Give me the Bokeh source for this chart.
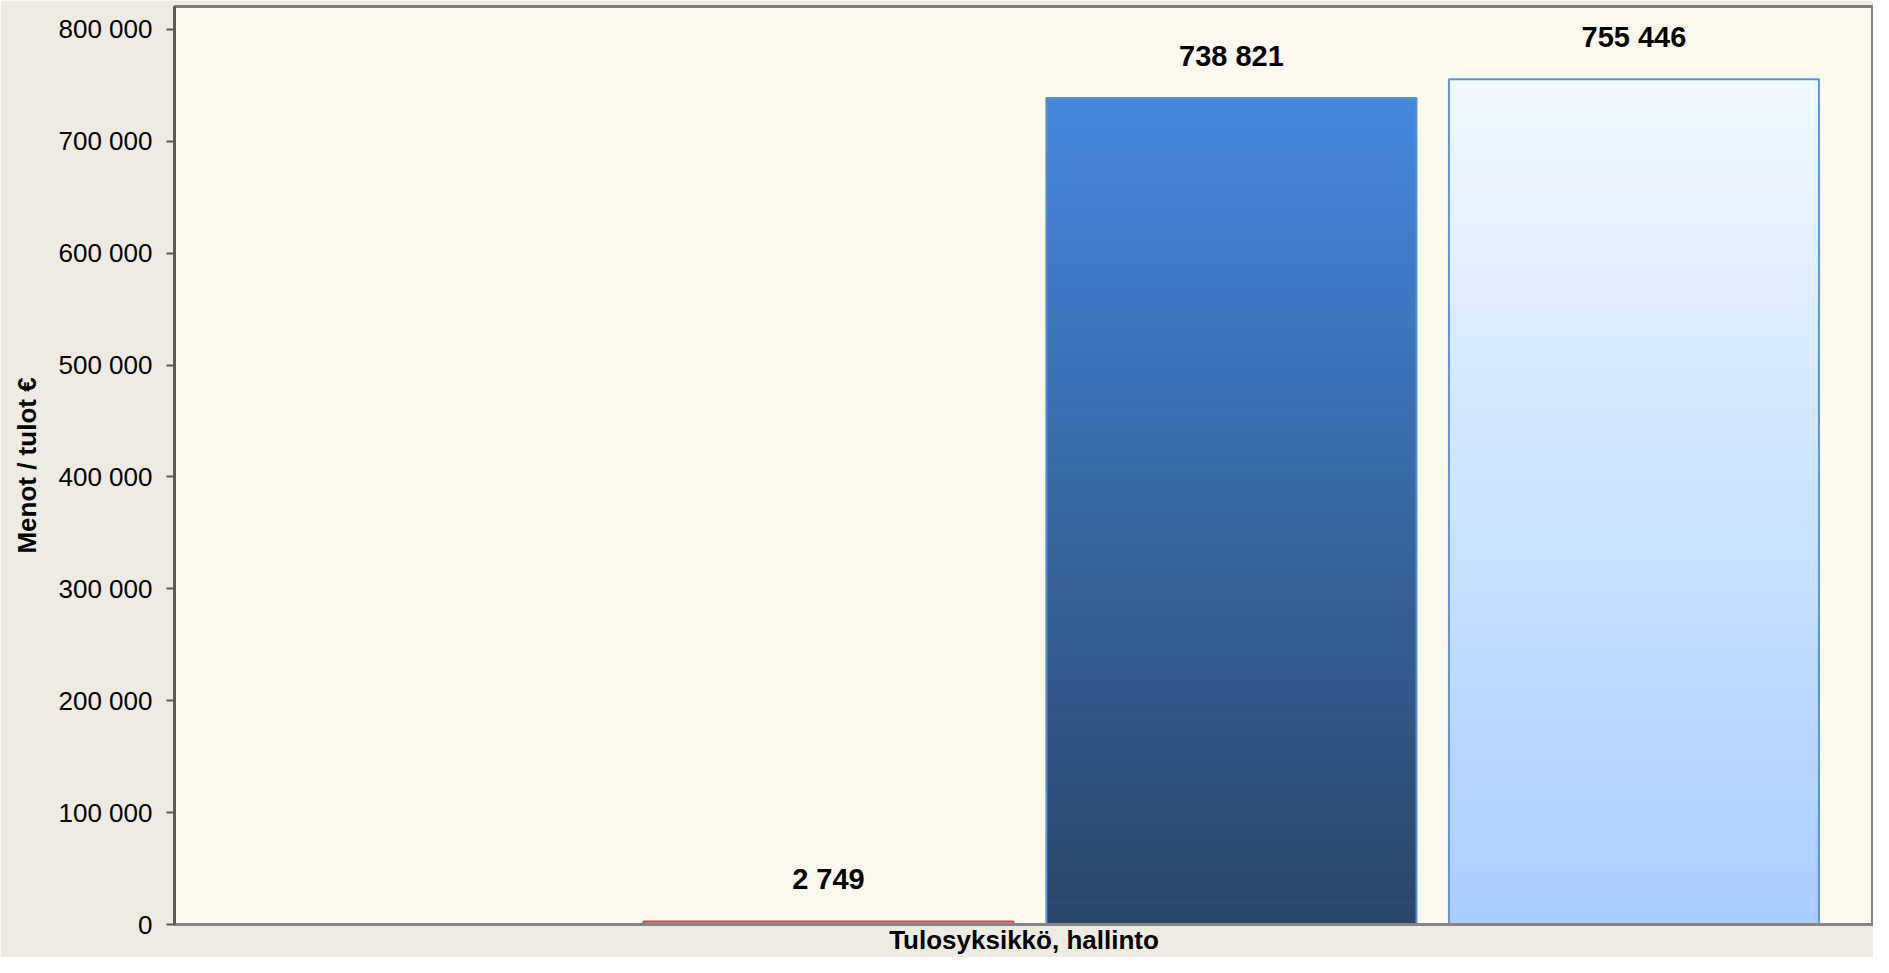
from bokeh.plotting import figure
from bokeh.models import FactorRange, Range1d, CustomJSTickFormatter, ColumnDataSource
from bokeh.transform import dodge
from bokeh.core.properties import value
from bokeh.embed import file_html
from bokeh.resources import INLINE

category = ["Tulosyksikkö, hallinto"]
series_names = ["Sarja 1", "Sarja 2", "Sarja 3", "Sarja 4"]
series_values = [None, 2749, 738821, 755446]
y_ticks = [0, 100000, 200000, 300000, 400000, 500000, 600000, 700000, 800000]
y_axis_title = "Menot / tulot €"

# styles (not data)
offsets = [-0.3523, -0.1151, 0.1221, 0.3590]
bar_w = 0.2178
flat_fill = {1: "#E8A3A1"}
flat_line = {1: "#C0504D"}
grad = {2: ((0x44, 0x88, 0xDD), (0x2A, 0x46, 0x68)),
        3: ((0xF0, 0xF9, 0xFF), (0xAA, 0xCC, 0xFF))}
border = {2: "#5A8FD2", 3: "#5E94D6"}

FONT = "Liberation Sans"

p = figure(width=1873, height=957, output_backend="svg", toolbar_location=None,
           x_range=FactorRange(factors=category, range_padding=0),
           y_range=Range1d(0, 820500),
           min_border_left=174, min_border_right=0, min_border_top=6, min_border_bottom=30)
p.background_fill_color = "#FCF9EE"
p.border_fill_color = "#EEEBE2"
p.outline_line_color = "#7F7F7F"
p.outline_line_width = 3
p.xgrid.visible = False
p.ygrid.visible = False

N = 120
for i, v in enumerate(series_values):
    if v is None:
        continue
    x = dodge("x", offsets[i], range=p.x_range)
    if i in grad:
        top_c, bot_c = grad[i]
        xs, bots, tops, cols = [], [], [], []
        for k in range(N):
            b = v * k / N
            t = v * (k + 1) / N
            f = (k + 0.5) / N  # 0 bottom -> 1 top
            c = tuple(int(round(bot_c[j] + (top_c[j] - bot_c[j]) * f)) for j in range(3))
            xs.append(category[0]); bots.append(b); tops.append(t)
            cols.append("#%02x%02x%02x" % c)
        src = ColumnDataSource(dict(x=xs, bottom=bots, top=tops, color=cols))
        p.vbar(x=x, width=bar_w, bottom="bottom", top="top", source=src,
               fill_color="color", line_color="color", line_width=1)
        p.vbar(x=dodge("x", offsets[i], range=p.x_range), width=bar_w, bottom=0, top="top",
               source=ColumnDataSource(dict(x=[category[0]], top=[v])),
               fill_alpha=0, line_color=border[i], line_width=2)
    else:
        src = ColumnDataSource(dict(x=[category[0]], top=[v]))
        p.vbar(x=x, width=bar_w, bottom=0, top="top", source=src,
               fill_color=flat_fill[i], line_color=flat_line[i], line_width=2)
    lab = ColumnDataSource(dict(x=[category[0]], y=[v], t=[f"{v:,}".replace(",", " ")]))
    p.text(x=dodge("x", offsets[i], range=p.x_range), y="y", text="t", source=lab,
           text_align="center", text_baseline="middle", y_offset=-42,
           text_font=value(FONT), text_font_size="29px", text_font_style="bold",
           text_color="#000000")

p.yaxis.ticker = y_ticks
p.yaxis.formatter = CustomJSTickFormatter(code="""
return Math.round(tick).toString().replace(/\\B(?=(\\d{3})+(?!\\d))/g, " ");
""")
p.yaxis.major_label_text_font = FONT
p.yaxis.major_label_text_font_size = "26px"
p.yaxis.major_label_text_color = "#000000"
p.yaxis.major_tick_out = 8
p.yaxis.major_tick_in = 0
p.yaxis.minor_tick_line_color = None
p.yaxis.major_tick_line_color = "#595959"
p.yaxis.major_tick_line_width = 2
p.yaxis.major_label_standoff = 14
p.yaxis.axis_line_color = "#595959"
p.yaxis.axis_line_width = 3
p.yaxis.axis_label = y_axis_title
p.yaxis.axis_label_text_font = FONT
p.yaxis.axis_label_text_font_size = "26px"
p.yaxis.axis_label_text_font_style = "bold"
p.yaxis.axis_label_text_color = "#000000"
p.yaxis.axis_label_standoff = 14

p.xaxis.major_tick_line_color = None
p.xaxis.major_tick_out = 0
p.xaxis.major_tick_in = 0
p.xaxis.major_label_text_font = FONT
p.xaxis.major_label_text_font_size = "26px"
p.xaxis.major_label_text_font_style = "bold"
p.xaxis.major_label_text_color = "#000000"
p.xaxis.major_label_standoff = 0
p.xaxis.axis_line_color = "#868686"
p.xaxis.axis_line_width = 3

open("out.html", "w").write(file_html(p, INLINE))
